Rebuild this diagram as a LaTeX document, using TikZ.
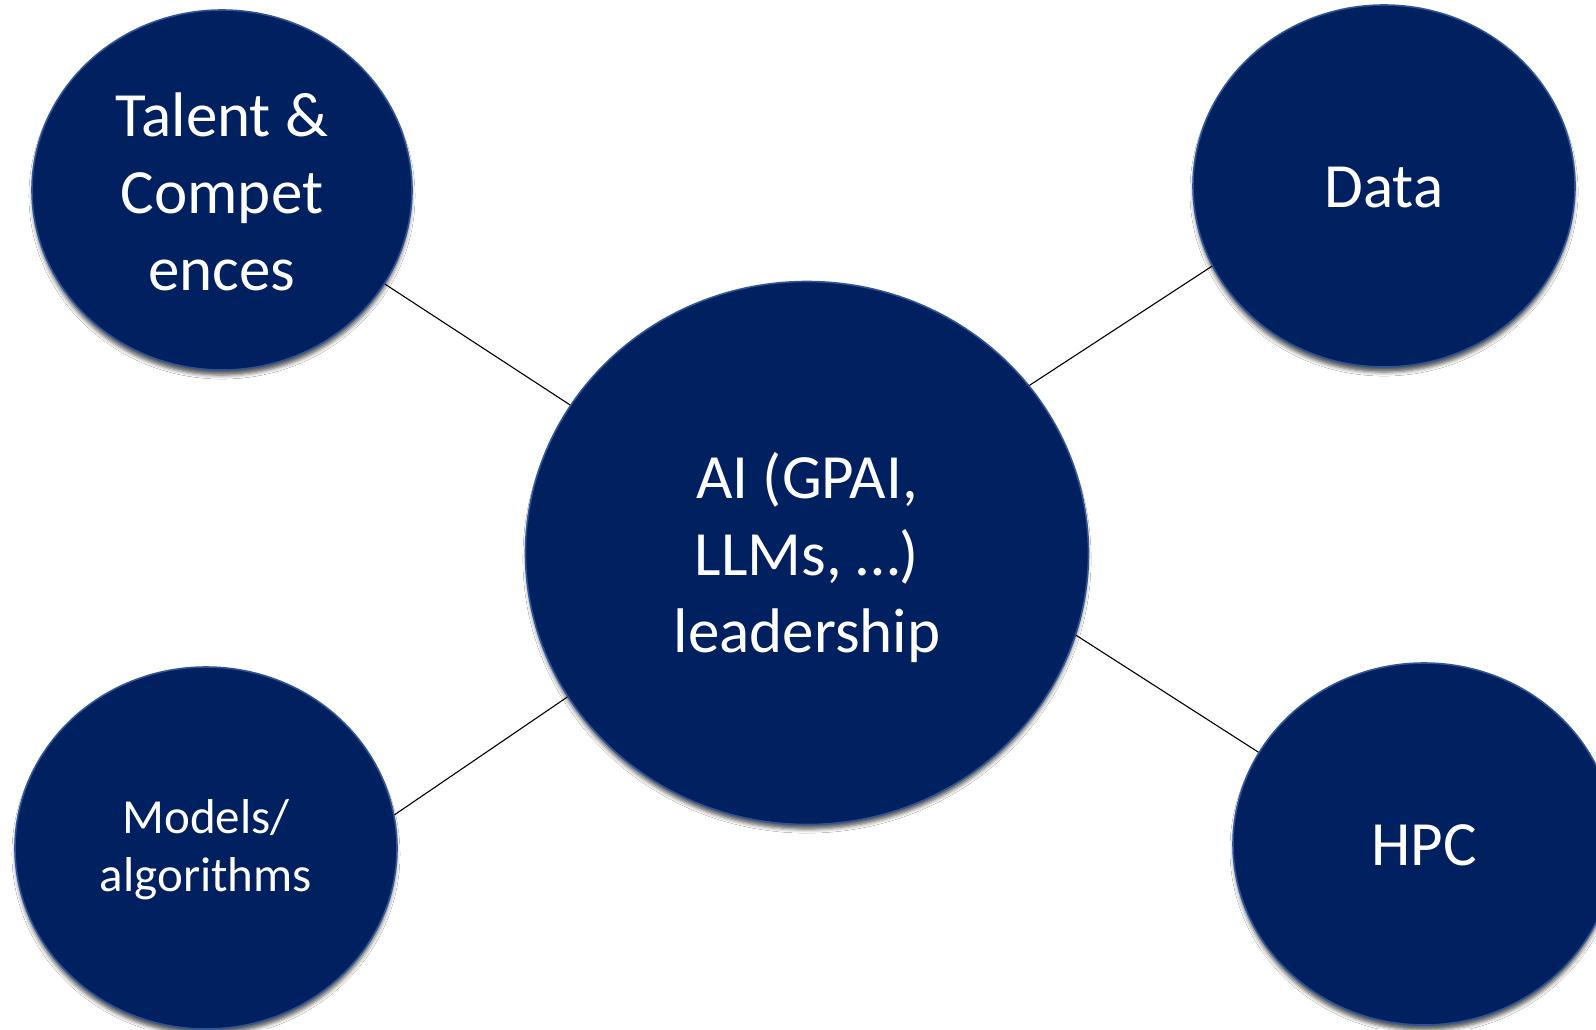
\documentclass[tikz,border=0pt]{standalone}
\usepackage{fontspec}
\setmainfont{Carlito}
\usetikzlibrary{shapes.geometric,shadows.blur}
\definecolor{navy}{HTML}{002060}
\definecolor{rim}{HTML}{2F5597}
\tikzset{
  bubble/.style={ellipse, fill=navy, draw=rim, line width=1.6pt, inner sep=0pt,
    blur shadow={shadow xshift=0pt, shadow yshift=-6pt, shadow blur radius=4pt, shadow opacity=65, shadow scale=0.995}},
  label text/.style={text=white, align=center, inner sep=0pt},
  bigtext/.style={label text, font=\fontsize{63}{76.7}\selectfont},
  smalltext/.style={label text, font=\fontsize{49}{58}\selectfont},
  link/.style={draw=black, line width=1.1pt}
}
\begin{document}
\begin{tikzpicture}[x=1pt,y=-1pt]
\useasboundingbox (0,0) rectangle (1596,1029);
\clip (0,0) rectangle (1596,1029);
\fill[white] (0,0) rectangle (1596,1029);
\node[bubble, minimum width=380pt, minimum height=360pt] (talent) at (222,190) {};
\node[bubble, minimum width=382pt, minimum height=362pt] (data) at (1384,186) {};
\node[bubble, minimum width=563pt, minimum height=543pt] (ai) at (807,553) {};
\node[bubble, minimum width=382pt, minimum height=362pt] (models) at (206,848) {};
\node[bubble, minimum width=382pt, minimum height=362pt] (hpc) at (1424,844) {};
\node[bigtext] (talent-t) at ([yshift=-2pt]talent.center) {Talent \&\\Compet\\ences};
\node[bigtext] (data-t) at ([yshift=-2pt]data.center) {Data};
\node[bigtext] (ai-t) at ([yshift=-4.5pt]ai.center) {AI (GPAI,\\LLMs, …)\\leadership};
\node[smalltext] (models-t) at ([yshift=-2pt]models.center) {Models/\\algorithms};
\node[bigtext] (hpc-t) at ([yshift=-1pt]hpc.center) {HPC};
\draw[link] (talent.-30.5) -- (ai.148);
\draw[link] (data.205.6) -- (ai.37.1);
\draw[link] (models.10.7) -- (ai.211.9);
\draw[link] (ai.-17.6) -- (hpc.151.4);
\end{tikzpicture}
\end{document}
